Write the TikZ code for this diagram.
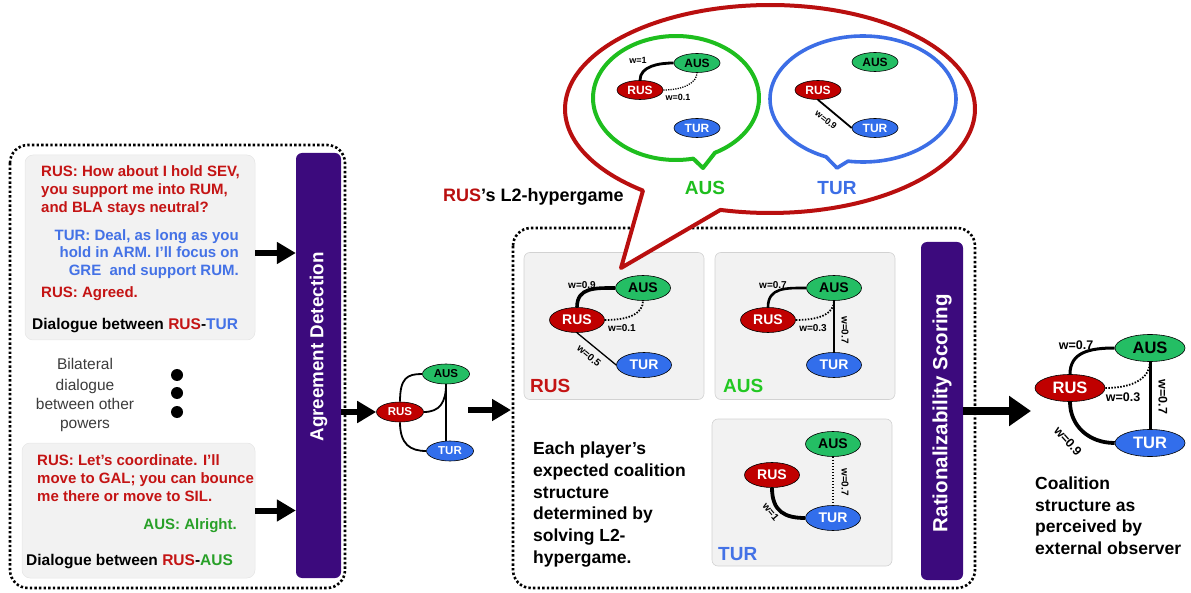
\documentclass[tikz,border=0pt]{standalone}
\usepackage{fontspec}
\setmainfont{Liberation Sans}
\usetikzlibrary{arrows.meta,shapes.geometric}
\newcommand{\fsz}[2]{\fontsize{#1}{#2}\selectfont}
\definecolor{rtext}{RGB}{196,20,20}
\definecolor{btext}{RGB}{68,114,230}
\definecolor{gtext}{RGB}{40,160,40}
\definecolor{brgreen}{RGB}{34,200,34}
\definecolor{nodegreen}{RGB}{36,190,100}
\definecolor{nodeblue}{RGB}{50,110,235}
\definecolor{nodered}{RGB}{192,0,0}
\definecolor{purp}{RGB}{60,10,125}
\definecolor{panelgray}{RGB}{242,242,242}
\definecolor{bubred}{RGB}{185,15,15}
\definecolor{bubgreen}{RGB}{30,190,30}
\definecolor{bubblue}{RGB}{60,110,230}
\definecolor{othertext}{RGB}{60,60,60}
\begin{document}
\begin{tikzpicture}[x=1pt,y=-1pt,
  pl/.style={ellipse, draw=black, line width=0.6pt, inner sep=0pt},
  rusn/.style={pl, fill=nodered, text=white},
  ausn/.style={pl, fill=nodegreen, text=black},
  turn/.style={pl, fill=nodeblue, text=white},
  gsmall/.style={minimum width=47pt, minimum height=20pt, font=\bfseries\fsz{11.5}{12}},
  gbub/.style={minimum width=46pt, minimum height=19pt, font=\bfseries\fsz{12}{12}},
  gmed/.style={minimum width=55pt, minimum height=25pt, font=\bfseries\fsz{14}{14}},
  gbig/.style={minimum width=70pt, minimum height=27pt, font=\bfseries\fsz{16.5}{17}},
  wl/.style={inner sep=0pt, font=\bfseries\fsz{10}{10}},
  wlb/.style={inner sep=0pt, font=\bfseries\fsz{12.5}{13}},
  wls/.style={inner sep=0pt, font=\bfseries\fsz{9}{9}},
  edot/.style={line width=1.8pt, dash pattern=on 1.5pt off 1.5pt},
  dotbox/.style={line width=2.6pt, dash pattern=on 2.4pt off 2.2pt, rounded corners=18pt},
  dlg/.style={rectangle, rounded corners=8pt, fill=panelgray, draw=gray!20, line width=0.5pt, inner sep=0pt},
  panel/.style={rectangle, rounded corners=6pt, fill=panelgray, draw=gray!35, line width=0.6pt, inner sep=0pt},
  pbar/.style={rectangle, rounded corners=6pt, fill=purp, inner sep=0pt},
  dtx/.style={inner sep=0pt, font=\bfseries\fsz{15}{18}},
  captx/.style={inner sep=0pt, font=\bfseries\fsz{17.5}{21}},
  ttl/.style={inner sep=0pt, font=\bfseries\fsz{19}{19}},
  arr/.style={line width=6pt, -{Triangle[length=19pt,width=21pt]}},
  bigarr/.style={line width=8pt, -{Triangle[length=22pt,width=29pt]}}
]
\useasboundingbox (0,0) rectangle (1191,593);

% ---------------- left section ----------------
\draw[dotbox] (10,145) rectangle (345,588);
\node[dlg, minimum width=230pt, minimum height=185pt] (d1) at (140,247.5) {};
\node[dlg, minimum width=233pt, minimum height=135pt] (d2) at (138.5,510.5) {};

\node[dtx, text=rtext, anchor=base west] (l1) at (41,177) {RUS: How about I hold SEV,};
\node[dtx, text=rtext, anchor=base west] (l2) at (41,195) {you support me into RUM,};
\node[dtx, text=rtext, anchor=base west] (l3) at (41,213) {and BLA stays neutral?};
\node[dtx, text=btext, anchor=base east] (l4) at (239,241) {TUR: Deal, as long as you};
\node[dtx, text=btext, anchor=base east] (l5) at (239,258) {hold in ARM. I’ll focus on};
\node[dtx, text=btext, anchor=base east] (l6) at (239,276) {GRE\ \ and support RUM.};
\node[dtx, text=rtext, anchor=base west] (l7) at (41,298) {RUS: Agreed.};
\node[inner sep=0pt, font=\bfseries\fsz{15.5}{18}, anchor=base west] (l8) at (32,330)
  {Dialogue between \textcolor{rtext}{RUS}-\textcolor{btext}{TUR}};

\node[inner sep=0pt, font=\fsz{15.5}{19}, text=othertext, anchor=base] (b1) at (85,370) {Bilateral};
\node[inner sep=0pt, font=\fsz{15.5}{19}, text=othertext, anchor=base] (b2) at (85,390) {dialogue};
\node[inner sep=0pt, font=\fsz{15.5}{19}, text=othertext, anchor=base] (b3) at (85,409) {between other};
\node[inner sep=0pt, font=\fsz{15.5}{19}, text=othertext, anchor=base] (b4) at (85,428) {powers};
\node[circle, fill=black, minimum size=12pt, inner sep=0pt] (dot1) at (177,375) {};
\node[circle, fill=black, minimum size=12pt, inner sep=0pt] (dot2) at (177,393) {};
\node[circle, fill=black, minimum size=12pt, inner sep=0pt] (dot3) at (177,412) {};

\node[dtx, text=rtext, anchor=base west] (m1) at (37,465) {RUS: Let’s coordinate. I’ll};
\node[dtx, text=rtext, anchor=base west] (m2) at (37,483) {move to GAL; you can bounce};
\node[dtx, text=rtext, anchor=base west] (m3) at (37,501) {me there or move to SIL.};
\node[dtx, text=gtext, anchor=base east] (m4) at (237,529) {AUS: Alright.};
\node[inner sep=0pt, font=\bfseries\fsz{15.5}{18}, anchor=base west] (m5) at (26,565)
  {Dialogue between \textcolor{rtext}{RUS}-\textcolor{gtext}{AUS}};

\node[pbar, minimum width=45pt, minimum height=425pt] (bar1) at (318.5,365.5) {};
\node[rotate=90, text=white, inner sep=0pt, font=\bfseries\fsz{18.8}{20}] (bar1t) at (318.5,347) {Agreement Detection};

\coordinate (a1y) at (0,253);
\draw[arr] (d1.east |- a1y) -- (bar1.west |- a1y);
\draw[arr] (d2.east) -- (d2.east -| bar1.west);

% ---------------- middle small graph ----------------
\node[ausn, gsmall] (as0) at (446,374) {AUS};
\node[rusn, gsmall] (rs0) at (400,412) {RUS};
\node[turn, gsmall] (ts0) at (450,451) {TUR};
\draw[line width=1.8pt] (rs0.north) .. controls +(0,-24) and +(-15,0) .. (as0.west);
\draw[line width=1.8pt] (rs0.east) .. controls +(16,0) and +(0,18) .. (as0.south);
\draw[line width=1.8pt] (as0.south) -- (as0.south |- ts0.north);
\draw[line width=1.8pt] (rs0.south) .. controls +(0,22) and +(-16,0) .. (ts0.west);
\draw[arr] (bar1.east |- rs0.west) -- (rs0.west);

\coordinate (a4s) at (468,410);
\coordinate (a4e) at (511,410);
\draw[arr] (a4s) -- (a4e);

% ---------------- middle section ----------------
\draw[dotbox] (513,228) rectangle (975,588);
\node[panel, minimum width=180pt, minimum height=147pt] (p1) at (614,326) {};
\node[panel, minimum width=180pt, minimum height=147pt] (p2) at (805,326) {};
\node[panel, minimum width=180pt, minimum height=147pt] (p3) at (802,492.5) {};

% RUS panel
\node[ausn, gmed] (as1) at (643,288) {AUS};
\node[rusn, gmed] (rs1) at (577,320) {RUS};
\node[turn, gmed] (ts1) at (644,365) {TUR};
\draw[line width=3.6pt] (rs1.north) .. controls +(0,-20) and +(-20,0) .. (as1.west);
\draw[edot] (rs1.east) .. controls +(26,0) and +(0,12) .. (as1.south);
\draw[line width=1.3pt] (rs1.south) -- (ts1.west);
\node[wl] (w11) at (582,285) {w=0.9};
\node[wl] (w12) at (622,328) {w=0.1};
\node[wl, rotate=-40] (w13) at (589,356) {w=0.5};
\node[ttl, text=rtext, anchor=base west] (t1) at (530,392) {RUS};

% AUS panel
\node[ausn, gmed] (as2) at (834,288) {AUS};
\node[rusn, gmed] (rs2) at (768,320) {RUS};
\node[turn, gmed] (ts2) at (834,365) {TUR};
\draw[line width=2.6pt] (rs2.north) .. controls +(0,-20) and +(-20,0) .. (as2.west);
\draw[edot] (rs2.east) .. controls +(26,0) and +(0,12) .. (as2.south);
\draw[line width=2.6pt] (as2.south) -- (ts2.north);
\node[wl] (w21) at (773,285) {w=0.7};
\node[wl] (w22) at (813,328) {w=0.3};
\node[wl, rotate=-90] (w23) at (845,330) {w=0.7};
\node[ttl, text=brgreen, anchor=base west] (t2) at (723,392) {AUS};

% TUR panel
\node[ausn, gmed] (as3) at (833,444) {AUS};
\node[rusn, gmed] (rs3) at (772,475) {RUS};
\node[turn, gmed] (ts3) at (833,518) {TUR};
\draw[line width=3.8pt] (rs3.south) .. controls +(0,24) and +(-20,0) .. (ts3.west);
\draw[edot] (as3.south) -- (ts3.north);
\node[wl, rotate=-50] (w31) at (771,512) {w=1};
\node[wl, rotate=-90] (w32) at (845,482) {w=0.7};
\node[ttl, text=btext, anchor=base west] (t3) at (718,560) {TUR};

% explanatory text
\node[captx, anchor=base west] (e1) at (533,454) {Each player’s};
\node[captx, anchor=base west] (e2) at (533,476) {expected coalition};
\node[captx, anchor=base west] (e3) at (533,498) {structure};
\node[captx, anchor=base west] (e4) at (533,519) {determined by};
\node[captx, anchor=base west] (e5) at (533,541) {solving L2-};
\node[captx, anchor=base west] (e6) at (533,563) {hypergame.};

\node[pbar, minimum width=42pt, minimum height=338pt] (bar2) at (942,411) {};
\node[rotate=90, text=white, inner sep=0pt, font=\bfseries\fsz{20.5}{21}] (bar2t) at (942,413) {Rationalizability Scoring};

\coordinate (a5e) at (1031,411);
\draw[bigarr] (bar2.east) -- (a5e);

% ---------------- bubbles ----------------
\draw[line width=4pt, draw=bubred, fill=white, line join=round]
  plot[domain=128.3:464, samples=160] ({770+205*cos(\x)},{109+104*sin(\x)}) -- (621,268) -- cycle;
\draw[line width=4pt, draw=bubgreen, line join=round]
  plot[domain=78:422, samples=120] ({676+83*cos(\x)},{98+62*sin(\x)}) -- (703,168) -- cycle;
\draw[line width=3.6pt, draw=bubblue, line join=round]
  plot[domain=113.4:459.3, samples=120] ({863+93*cos(\x)},{99+63*sin(\x)}) -- (837,168) -- cycle;

% AUS's view
\node[ausn, gbub] (as4) at (697,63) {AUS};
\node[rusn, gbub] (rs4) at (640,90) {RUS};
\node[turn, gbub] (ts4) at (697,128) {TUR};
\draw[line width=2.8pt] (rs4.north) .. controls +(0,-14) and +(-15,0) .. (as4.west);
\draw[line width=1.3pt, dash pattern=on 1.2pt off 1.2pt] (rs4.east) .. controls +(20,0) and +(0,10) .. (as4.south);
\node[wls] (w41) at (638,60) {w=1};
\node[wls] (w42) at (678,97) {w=0.1};

% TUR's view
\node[ausn, gbub] (as5) at (875,62) {AUS};
\node[rusn, gbub] (rs5) at (818,90) {RUS};
\node[turn, gbub] (ts5) at (875,128) {TUR};
\draw[line width=1.8pt] (rs5.south) -- (ts5.west);
\node[wls, rotate=-38] (w51) at (826,120) {w=0.9};

\node[ttl, text=bubgreen, anchor=base] (t4) at (705,195) {AUS};
\node[ttl, text=bubblue, anchor=base] (t5) at (837,195) {TUR};

\node[inner sep=0pt, font=\bfseries\fsz{18}{18}, anchor=base west] (hyp) at (443,201.5)
  {\textcolor{bubred}{RUS}’s L2-hypergame};

% ---------------- right graph ----------------
\node[ausn, gbig] (as6) at (1150,348) {AUS};
\node[rusn, gbig] (rs6) at (1070,388) {RUS};
\node[turn, gbig] (ts6) at (1150,443) {TUR};
\draw[line width=3pt] (rs6.north) .. controls +(0,-22) and +(-25,0) .. (as6.west);
\draw[edot] (rs6.east) .. controls +(30,0) and +(0,15) .. (as6.south);
\draw[line width=3pt] (as6.south) -- (ts6.north);
\draw[line width=3.8pt] (rs6.south) .. controls +(0,24) and +(-26,0) .. (ts6.west);
\node[wlb] (w61) at (1076,345) {w=0.7};
\node[wlb] (w62) at (1123,397) {w=0.3};
\node[wlb, rotate=-90] (w63) at (1163,397) {w=0.7};
\node[wlb, rotate=-48] (w64) at (1068,441) {w=0.9};

\node[captx, anchor=base west] (c1) at (1035,489) {Coalition};
\node[captx, anchor=base west] (c2) at (1035,511) {structure as};
\node[captx, anchor=base west] (c3) at (1035,532) {perceived by};
\node[captx, anchor=base west] (c4) at (1035,554) {external observer};
\end{tikzpicture}
\end{document}
